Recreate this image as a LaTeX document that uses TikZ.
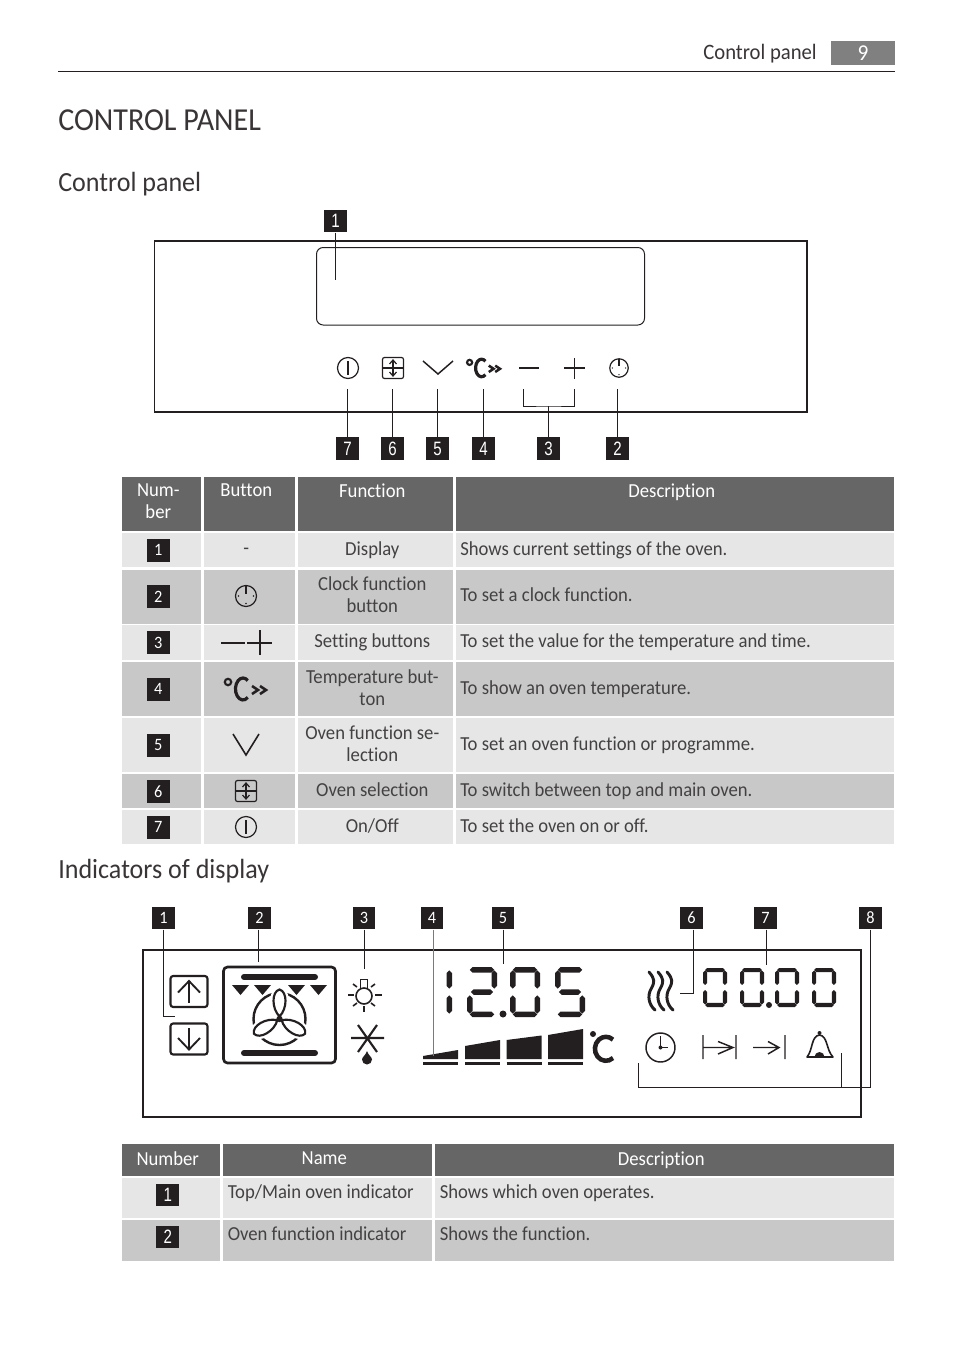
\documentclass[tikz,border=0pt]{standalone}
\usepackage{fontspec}
\setmainfont[FakeStretch=0.94,Ligatures=NoCommon]{Carlito}
\newfontfamily\badgefont[FakeStretch=0.78]{Liberation Sans}
\usepackage{xcolor}
\usetikzlibrary{positioning,calc}
\definecolor{inkBlack}{HTML}{231F20}
\definecolor{headGray}{HTML}{666666}
\definecolor{rowLight}{HTML}{E6E6E6}
\definecolor{rowDark}{HTML}{C8C8C8}
\definecolor{pageGray}{HTML}{808080}

\newcommand{\pxfont}[2]{\fontsize{#1}{#2}\selectfont}
\newcommand{\pstrut}{\rule[-2.6pt]{0pt}{11.8pt}}
\newcommand{\hseg}[4]{\fill (#1,#2) -- ({#1+#4/2},{#2-#4/2}) -- ({#3-#4/2},{#2-#4/2}) -- (#3,#2) -- ({#3-#4/2},{#2+#4/2}) -- ({#1+#4/2},{#2+#4/2}) -- cycle;}
\newcommand{\vseg}[4]{\fill (#1,#2) -- ({#1+#4/2},{#2+#4/2}) -- ({#1+#4/2},{#3-#4/2}) -- (#1,#3) -- ({#1-#4/2},{#3-#4/2}) -- ({#1-#4/2},{#2+#4/2}) -- cycle;}
\newcommand{\sega}[5]{\hseg{#1+#5*0.5}{#2+#5/2}{#1+#3-#5*0.5}{#5}}
\newcommand{\segg}[5]{\hseg{#1+#5*0.7}{#2+#4/2}{#1+#3-#5*0.7}{#5}}
\newcommand{\segd}[5]{\hseg{#1+#5*0.5}{#2+#4-#5/2}{#1+#3-#5*0.5}{#5}}
\newcommand{\segf}[5]{\vseg{#1+#5/2}{#2+#5*0.6}{#2+#4/2-#5*0.6}{#5}}
\newcommand{\sege}[5]{\vseg{#1+#5/2}{#2+#4/2+#5*0.6}{#2+#4-#5*0.6}{#5}}
\newcommand{\segb}[5]{\vseg{#1+#3-#5/2}{#2+#5*0.6}{#2+#4/2-#5*0.6}{#5}}
\newcommand{\segc}[5]{\vseg{#1+#3-#5/2}{#2+#4/2+#5*0.6}{#2+#4-#5*0.6}{#5}}
\newcommand{\segdigit}[6]{\foreach \s in {#6}{\csname seg\s\endcsname{#1}{#2}{#3}{#4}{#5}}}

\tikzset{
    pics/powerIcon/.style={code={
        \draw[iconLine] (0,0) circle (10.5);
        \draw[iconLine] (0,-7) -- (0,7);
    }},
    pics/clockIcon/.style={code={
        \draw[iconLine] (0,0) circle (10.5);
        \draw[iconLine] (0,-10) -- (0,-2);
        \fill[inkBlack] (-7.5,0) circle (0.8) (7.5,0) circle (0.8) (0,7.5) circle (0.8);
    }},
    pics/selectIcon/.style={code={
        \draw[iconLine, rounded corners=1.5] (-10.5,-10.5) rectangle (10.5,10.5);
        \draw[iconLine] (-10.5,0) -- (10.5,0);
        \draw[iconLine] (0,-7.5) -- (0,7.5);
        \draw[iconLine] (-3.5,-4) -- (0,-8) -- (3.5,-4);
        \draw[iconLine] (-3.5,4) -- (0,8) -- (3.5,4);
    }},
    pics/tempIcon/.style={code={
        \draw[inkBlack, line width=1.6] (-18,-7) circle (3.2);
        \draw[inkBlack, line width=2.4] (1.8,8.4) arc[start angle=50, end angle=310, x radius=7.5, y radius=11];
        \draw[inkBlack, line width=1.9] (6,-3) -- (12,1) -- (6,5);
        \draw[inkBlack, line width=1.9] (14,-3) -- (20,1) -- (14,5);
    }},
    pics/arrowBox/.style={code={
        \draw[inkBlack, line width=1.6, rounded corners=2] (-18.5,-15.5) rectangle (18.5,15.5);
        \draw[inkBlack, line width=1.4] (0,-10) -- (0,11);
        \draw[inkBlack, line width=1.4] (-11,1) -- (0,-10.5) -- (11,1);
    }}
}

\begin{document}
\begin{tikzpicture}[
    x=0.75pt, y=-0.75pt,
    iconLine/.style={draw=inkBlack, line width=0.9},
    thinLine/.style={draw=inkBlack, line width=0.75},
    panelLine/.style={draw=inkBlack, line width=0.9},
    badge/.style={rectangle, fill=inkBlack, text=white, font=\badgefont\pxfont{14.5}{16}, minimum width=17pt, minimum height=17pt, inner sep=0pt},
    thinBadge/.style={badge, font=\pxfont{13}{14}},
    cell/.style={rectangle, anchor=north west, inner sep=0pt, minimum height=#1*0.75pt},
    headCell/.style={fill=headGray},
    cellText/.style={font=\pxfont{14.9}{16.5}, align=center, inner sep=0pt, text=inkBlack!85!white, xshift=-2.6pt},
    headText/.style={font=\pxfont{14.9}{16.5}, align=center, inner sep=0pt, text=white, xshift=-2.6pt},
    descText/.style={font=\pxfont{14.9}{16.5}, anchor=west, inner sep=0pt, text=inkBlack!85!white},
    pageText/.style={anchor=base west, inner sep=0pt, text=inkBlack!90!white}
]
    \useasboundingbox (0,0) rectangle (954,1352);

    % page head
    \node[pageText, anchor=base east, font=\pxfont{16.5}{18}] (pageHead) at (817,59.5) {Control panel};
    \node[rectangle, fill=pageGray, minimum width=48pt, minimum height=18pt, inner sep=0pt, text=white, font=\pxfont{17}{18}] (pageNum) at (863,53.5) {9};
    \coordinate (ruleA) at (58,71.5);
    \coordinate (ruleB) at (895,71.5);
    \draw[thinLine] (ruleA) -- (ruleB);
    \node[pageText, font=\pxfont{24}{28}] (mainTitle) at (58,131) {CONTROL PANEL};
    \node[pageText, font=\pxfont{20.8}{24}] (secPanel) at (58,191) {Control panel};
    \node[pageText, font=\pxfont{20.8}{24}] (secIndic) at (58,878) {Indicators of display};

    % control panel drawing
    \draw[panelLine] (154.5,241) rectangle (807,412);
    \draw[thinLine, rounded corners=5pt] (316.5,247.5) rectangle (644.5,325);
    \pic at (348,368) {powerIcon};
    \pic at (393,368) {selectIcon};
    \draw[iconLine, line width=1.1] (423,361) -- (438,374) -- (453,361);
    \pic[scale=0.8] at (484,368) {tempIcon};
    \draw[iconLine, line width=1.5] (519,368) -- (539,368);
    \draw[iconLine, line width=1.3] (564,368) -- (585,368);
    \draw[iconLine, line width=1.3] (574.5,358) -- (574.5,379);
    \pic[scale=0.88] at (619,368) {clockIcon};

    \node[badge] (a1) at (335.5,221) {1};
    \foreach \n/\x in {7/347.5,6/392.5,5/437.5,4/483.5,3/548.5,2/617.5}
        \node[badge] (a\n) at (\x,448.5) {\n};
    \coordinate (e1) at (335.5,280);
    \draw[thinLine] (a1.south) -- (e1);
    \foreach \n/\x in {7/347.5,6/392.5,5/437.5,4/483.5,2/617.5} {
        \coordinate (e\n) at (\x,389);
        \draw[thinLine] (a\n.north) -- (e\n);
    }
    \coordinate (e3L) at (523,389);
    \coordinate (e3R) at (574.5,389);
    \coordinate (e3M) at (548.5,406);
    \draw[thinLine] (e3L) |- (e3M) -| (e3R);
    \draw[thinLine] (a3.north) -- (e3M);

    % table of buttons
    \foreach \n/\x/\w/\t in {1/122/79/{Num-\\ber},2/204/91/Button,3/298/155/Function,4/456/438/Description} {
        \node[cell=54, headCell, minimum width=\w*0.75pt] (th\n) at (\x,477) {};
        \node[headText, anchor=north] (thTxt\n) at ($(th\n.north)+(0,6.5)$) {\pstrut\t};
    }
    \foreach \r/\y/\h/\c/\f/\d in {
        1/533/34/rowLight/Display/Shows current settings of the oven.,
        2/569.5/54/rowDark/{Clock function\\button}/To set a clock function.,
        3/625/34.5/rowLight/Setting buttons/To set the value for the temperature and time.,
        4/662/54/rowDark/{Temperature but-\\ton}/To show an oven temperature.,
        5/718/54/rowLight/{Oven function se-\\lection}/To set an oven function or programme.,
        6/774/34/rowDark/Oven selection/To switch between top and main oven.,
        7/810/34/rowLight/On\slash Off/To set the oven on or off.} {
        \node[cell=\h, fill=\c, minimum width=59.25pt] (r\r a) at (122,\y) {};
        \node[cell=\h, fill=\c, minimum width=68.25pt] (r\r b) at (204,\y) {};
        \node[cell=\h, fill=\c, minimum width=116.25pt] (r\r c) at (298,\y) {};
        \node[cell=\h, fill=\c, minimum width=328.5pt] (r\r d) at (456,\y) {};
        \node[thinBadge, xshift=-2.6pt] (n\r) at (r\r a) {\r};
        \node[cellText] (f\r) at (r\r c) {\pstrut\f\pstrut};
        \node[descText] (d\r) at ($(r\r d.west)+(4,0)$) {\pstrut\d};
    }
    \node[cellText] (btn1) at (r1b) {\pstrut-};
    \pic at (246,596) {clockIcon};
    \draw[iconLine, line width=1.5] (221,642.5) -- (245,642.5);
    \draw[iconLine, line width=1.5] (247,642.5) -- (272,642.5);
    \draw[iconLine, line width=1.5] (259.5,630) -- (259.5,655);
    \pic at (246,689) {tempIcon};
    \draw[iconLine, line width=1.2] (233,734) -- (246,755) -- (259,734);
    \pic at (246,791) {selectIcon};
    \pic at (246,827) {powerIcon};

    % display drawing
    \draw[panelLine] (143,950) rectangle (861,1117);
    \pic at (189,991.5) {arrowBox};
    \pic[yscale=-1] at (189,1039) {arrowBox};

    % oven symbol
    \draw[inkBlack, line width=2, rounded corners=3pt] (223.5,967) rectangle (335.5,1063);
    \draw[inkBlack, line width=4.5, line cap=round] (244,977) -- (315,977);
    \draw[inkBlack, line width=4.5, line cap=round] (244,1053) -- (315,1053);
    \foreach \x in {232,254,288,310}
        \fill[inkBlack] (\x,985) -- (\x+17,985) -- (\x+8.5,995) -- cycle;
    \draw[inkBlack, line width=1.8] (279.5,1019) circle (26);
    \foreach \a in {90,210,330} {
        \begin{scope}[rotate around={\a:(279.5,1019)}]
            \draw[white, line width=5, fill=white] (282,1019) .. controls (290,1011) and (307,1011) .. (309,1019) .. controls (307,1027) and (290,1027) .. (282,1019);
            \draw[inkBlack, line width=1.6] (282,1019) .. controls (290,1011) and (307,1011) .. (309,1019) .. controls (307,1027) and (290,1027) .. (282,1019);
        \end{scope}
    }
    \fill[inkBlack] (279.5,1019) circle (3.2);

    % lamp and defrost
    \draw[inkBlack, line width=1.2] (364,996) circle (8);
    \draw[inkBlack, line width=1.2] (360.5,988) -- (360.5,979.5) -- (367.5,979.5) -- (367.5,988);
    \draw[inkBlack, line width=1.2] (348,995) -- (354,995) (375,995) -- (382,995) (364,1006) -- (364,1012);
    \draw[inkBlack, line width=1.2] (353,984) -- (357,987) (375,984) -- (371,987) (353,1006) -- (357,1003) (375,1006) -- (371,1003);
    \draw[inkBlack, line width=1.6] (351,1038) -- (384,1038) (358,1025) -- (377,1052) (377,1025) -- (358,1052);
    \fill[inkBlack] (367,1051) .. controls (368,1055) and (372,1057) .. (372,1059.5) arc[start angle=0, end angle=180, radius=5] .. controls (362,1057) and (366,1055) .. (367,1051);

    % big digits
    \begin{scope}[inkBlack]
        \segdigit{440}{967}{12}{50}{5.5}{b,c}
        \segdigit{467}{967}{30}{50}{5.5}{a,b,g,e,d}
        \segdigit{510}{967}{30}{50}{5.5}{a,b,c,d,e,f}
        \segdigit{555}{967}{30}{50}{5.5}{a,f,g,c,d}
        \fill (503,1014) circle (3.5);
        \segdigit{703}{968}{24}{39}{4.2}{a,b,c,d,e,f}
        \segdigit{740}{968}{24}{39}{4.2}{a,b,c,d,e,f}
        \fill (769,1005) circle (3);
        \segdigit{775}{968}{24}{39}{4.2}{a,b,c,d,e,f}
        \segdigit{812}{968}{24}{39}{4.2}{a,b,c,d,e,f}
    \end{scope}

    % temperature bars
    \foreach \xa/\xb/\ya/\yb in {423/458/1056/1050,465/500/1046/1040,506.5/541.5/1040/1035.5,548/583/1035/1029} {
        \fill[inkBlack] (\xa,\ya) -- (\xb,\yb) -- (\xb,1059) -- (\xa,1059) -- cycle;
        \draw[inkBlack, line width=1.8] (\xa,1063.5) -- (\xb,1063.5);
    }
    \fill[inkBlack] (593,1034) circle (3);
    \draw[inkBlack, line width=3.4] (613,1058) arc[start angle=50, end angle=310, x radius=11, y radius=12];

    % heat waves
    \foreach \x in {0,9,18}
        \draw[inkBlack, line width=2.2, line cap=round] (649+\x,972) .. controls (655+\x,979) and (655+\x,982) .. (651+\x,989) .. controls (647+\x,996) and (649+\x,1005) .. (655+\x,1010);

    % timer symbols
    \draw[inkBlack, line width=1.1] (660.5,1047.5) circle (14.5);
    \draw[inkBlack, line width=1.1] (660.5,1036) -- (660.5,1047.5) -- (668,1047.5);
    \fill[inkBlack] (660.5,1047.5) circle (2);
    \draw[inkBlack, line width=1.1] (703,1035) -- (703,1059) (703,1047.5) -- (733,1047.5) (718,1041.5) -- (733,1047.5) -- (718,1054) (736,1035) -- (736,1059);
    \draw[inkBlack, line width=1.1] (753,1047.5) -- (778,1047.5) (768,1041.5) -- (779,1047.5) -- (768,1054) (785,1035) -- (785,1059);
    \draw[inkBlack, line width=1.2, line join=round] (807,1057) .. controls (813,1050) and (811,1036) .. (819.5,1035) .. controls (828,1036) and (826,1050) .. (833,1057) -- cycle;
    \fill[inkBlack] (819.5,1033) circle (2);
    \fill[inkBlack] (814.5,1057) arc[start angle=180, end angle=360, radius=5] -- cycle;

    % display labels
    \foreach \n/\x in {1/163.5,2/259.5,3/364,4/432,5/503,6/691.5,7/765.5,8/870.5}
        \node[thinBadge] (b\n) at (\x,918) {\n};
    \coordinate (s1) at (175,1016);
    \coordinate (s2) at (258.5,962);
    \coordinate (s3) at (364,969);
    \coordinate (s4) at (433,1056);
    \coordinate (s5) at (503.5,964);
    \coordinate (k6) at (693.5,993.5);
    \coordinate (s6) at (680,993.5);
    \coordinate (s7) at (766.5,965);
    \coordinate (s8) at (638.5,1063);
    \coordinate (s8b) at (841.5,1053);
    \coordinate (t8) at (841.5,1087);
    \draw[thinLine] (b1.south) |- (s1);
    \draw[thinLine] (b2.south -| s2) -- (s2);
    \draw[thinLine] (b3.south) -- (s3);
    \draw[draw=inkBlack!60!white, line width=0.75] (b4.south -| s4) -- (s4);
    \draw[thinLine] (b5.south -| s5) -- (s5);
    \draw[thinLine] (b6.south -| k6) -- (k6) -- (s6);
    \draw[thinLine] (b7.south -| s7) -- (s7);
    \draw[thinLine] (b8.south) |- (t8) -| (s8);
    \draw[thinLine] (t8) -- (s8b);

    % table of indicators
    \foreach \n/\x/\w/\t in {1/122/98/Number,2/223/209/Name,3/435/459/Description} {
        \node[cell=32, headCell, minimum width=\w*0.75pt] (ih\n) at (\x,1144) {};
        \node[headText] (ihTxt\n) at (ih\n) {\pstrut\t};
    }
    \foreach \r/\y/\h/\c/\f/\d in {
        1/1178/40/rowLight/Top\slash Main oven indicator/Shows which oven operates.,
        2/1220/41/rowDark/Oven function indicator/Shows the function.} {
        \node[cell=\h, fill=\c, minimum width=73.5pt] (q\r a) at (122,\y) {};
        \node[cell=\h, fill=\c, minimum width=156.75pt] (q\r b) at (223,\y) {};
        \node[cell=\h, fill=\c, minimum width=344.25pt] (q\r c) at (435,\y) {};
        \node[badge, xshift=-2.6pt] (m\r) at ($(q\r a.north)+(0,17)$) {\r};
        \node[descText, anchor=base west] (g\r) at ($(q\r b.north west)+(4.5,20)$) {\f};
        \node[descText, anchor=base west] (h\r) at ($(q\r c.north west)+(4.5,20)$) {\d};
    }
\end{tikzpicture}
\end{document}
